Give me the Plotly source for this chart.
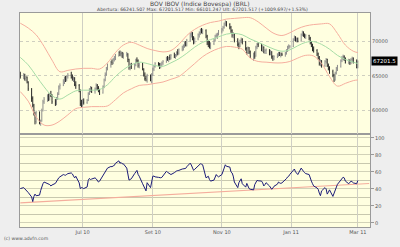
import pandas as pd
import plotly.graph_objects as go

# ---------------- DATA (prices in thousands of points) ----------------
# daily bars (open, high, low, close), one list per month
may10 = [(65.3,65.6,64.6,64.9),(64.9,65.4,64.5,65.1),(65.1,65.3,64.3,64.6),(64.6,65.0,64.2,64.8),
         (64.8,64.9,63.9,64.1),(64.1,64.2,62.8,63.1),(63.1,63.2,61.2,61.7),(61.7,62.0,60.4,60.7),
         (60.7,60.9,59.2,59.5),(59.5,59.7,57.9,58.3),(58.3,59.9,58.0,59.6),(59.6,59.8,57.9,58.2),
         (58.2,58.6,57.7,58.4),(58.4,60.2,58.3,59.9),(59.9,61.5,59.8,61.2),(61.2,61.9,60.9,61.6),
         (61.6,62.3,61.2,62.0)]
jun10 = [(62.0,62.4,61.3,61.6),(61.6,62.5,61.4,62.3),(62.3,62.8,61.9,62.2),(62.2,62.3,60.9,61.2),
         (61.2,61.6,60.6,61.0),(61.0,61.9,60.7,61.7),(61.7,62.6,61.5,62.3),(62.3,63.6,62.2,63.4),
         (63.4,63.9,63.0,63.6),(63.6,64.5,63.5,64.2),(64.2,64.9,63.8,64.7),(64.7,65.0,64.1,64.5),
         (64.5,65.1,64.2,64.9),(64.9,65.4,64.6,65.1),(65.1,65.6,64.6,64.8),(64.8,65.2,64.3,64.5),
         (64.5,64.9,64.1,64.7),(64.7,64.8,63.5,63.7),(63.7,64.2,63.1,63.6),(63.6,63.8,62.6,62.9),
         (62.9,63.0,60.6,60.9),(60.9,61.5,60.4,60.9)]
jul10 = [(60.9,61.6,60.5,61.3),(61.3,61.7,60.8,61.1),(61.1,61.6,60.9,61.4),(61.4,62.6,61.3,62.4),
         (62.4,63.2,62.2,63.0),(63.0,63.5,62.6,63.2),(63.2,63.4,62.5,62.8),(62.8,63.3,62.4,63.1),
         (63.1,63.9,62.9,63.6),(63.6,63.8,62.9,63.2),(63.2,63.5,62.6,62.9),(62.9,63.1,62.2,62.5),
         (62.5,63.6,62.4,63.4),(63.4,64.6,63.2,64.4),(64.4,65.5,64.2,65.2),(65.2,66.3,65.0,66.1),
         (66.1,66.8,65.8,66.6),(66.6,67.2,66.2,67.0),(67.0,67.4,66.6,66.9),(66.9,67.6,66.7,67.4),
         (67.4,67.9,67.1,67.6),(67.6,68.2,67.3,68.0)]
aug10 = [(68.0,68.6,67.8,68.4),(68.4,68.7,67.9,68.2),(68.2,68.6,67.8,68.3),(68.3,68.5,67.6,67.9),
         (67.9,68.4,67.5,68.1),(68.1,68.5,67.8,68.2),(68.2,68.3,67.0,67.4),(67.4,67.5,65.9,66.2),
         (66.2,66.8,65.8,66.5),(66.5,66.9,66.0,66.3),(66.3,66.8,65.9,66.6),(66.6,67.5,66.4,67.3),
         (67.3,67.7,66.9,67.2),(67.2,67.4,66.2,66.5),(66.5,66.9,66.1,66.7),(66.7,66.9,65.8,66.0),
         (66.0,66.1,64.9,65.1),(65.1,65.5,64.3,64.6),(64.6,65.0,64.2,64.4),(64.4,65.3,64.0,65.0),
         (65.0,65.2,64.2,64.4),(64.4,65.4,63.9,65.1)]
sep10 = [(65.1,66.2,65.0,66.0),(66.0,66.6,65.7,66.4),(66.4,67.0,66.2,66.8),(66.8,67.0,66.4,66.7),
         (66.7,66.9,66.0,66.3),(66.3,66.9,66.1,66.7),(66.7,67.1,66.4,66.9),(66.9,67.3,66.6,67.1),
         (67.1,67.8,66.9,67.6),(67.6,67.9,67.2,67.5),(67.5,67.8,67.0,67.7),(67.7,68.1,67.3,67.6),
         (67.6,68.2,67.4,68.0),(68.0,68.4,67.6,67.9),(67.9,68.2,67.5,68.1),(68.1,68.6,67.8,68.4),
         (68.4,68.9,68.0,68.3),(68.3,69.0,68.1,68.9),(68.9,69.4,68.6,69.2),(69.2,69.6,68.7,69.4),
         (69.4,70.0,69.1,69.7),(69.7,70.1,69.3,69.5)]
oct10 = [(69.5,70.4,69.3,70.2),(70.2,71.3,70.0,71.0),(71.0,71.5,70.6,71.2),(71.2,71.4,70.2,70.4),
         (70.4,70.8,69.6,69.9),(69.9,70.6,69.7,70.4),(70.4,71.2,70.2,71.0),(71.0,71.5,70.6,71.3),
         (71.3,71.9,71.0,71.7),(71.7,72.0,71.2,71.5),(71.5,71.9,71.1,71.6),(71.6,71.8,70.5,70.8),
         (70.8,71.0,69.5,69.8),(69.8,70.2,69.2,69.6),(69.6,70.1,69.0,69.4),(69.4,69.9,68.9,69.7),
         (69.7,70.4,69.5,70.2),(70.2,71.0,70.0,70.8),(70.8,71.2,70.5,70.9),(70.9,71.3,70.4,71.1),
         (71.1,71.7,70.9,71.5)]
nov10 = [(71.5,72.0,71.2,71.8),(71.8,72.3,71.5,72.1),(72.1,72.8,71.9,72.6),(72.6,73.1,72.3,72.9),
         (72.9,73.0,72.2,72.5),(72.5,72.7,71.8,72.1),(72.1,72.3,71.3,71.6),(71.6,71.8,70.6,70.9),
         (70.9,71.4,70.5,71.1),(71.1,71.2,69.9,70.2),(70.2,70.5,69.3,69.6),(69.6,69.9,68.9,69.3),
         (69.3,70.3,69.2,70.1),(70.1,70.6,69.8,70.3),(70.3,70.5,69.6,69.9),(69.9,70.1,68.7,69.0),
         (69.0,69.2,68.1,68.4),(68.4,69.3,68.2,69.1),(69.1,69.2,68.2,68.5),(68.5,68.7,67.6,67.9),
         (67.9,68.4,67.2,68.2),(68.2,68.6,67.5,67.9)]
dec10 = [(67.9,69.4,67.8,69.2),(69.2,69.8,68.9,69.6),(69.6,69.9,69.2,69.5),(69.5,69.7,68.6,68.9),
         (68.9,69.5,68.5,69.2),(69.2,69.3,68.3,68.5),(68.5,68.9,68.2,68.7),(68.7,69.0,68.2,68.8),
         (68.8,68.9,68.0,68.3),(68.3,68.8,68.0,68.5),(68.5,68.6,67.5,67.8),(67.8,68.0,67.2,67.5),
         (67.5,68.0,67.3,67.8),(67.8,68.3,67.6,68.1),(68.1,68.5,67.8,68.3),(68.3,68.5,67.9,68.0),
         (68.0,68.4,67.7,68.2),(68.2,68.4,67.9,68.1),(68.1,68.5,67.8,68.3),(68.3,68.9,68.1,68.7),
         (68.7,69.4,68.5,69.2),(69.2,69.6,68.9,69.3),(69.3,69.5,69.0,69.3)]
jan11 = [(69.3,70.5,69.2,70.3),(70.3,70.9,70.1,70.6),(70.6,70.8,70.0,70.2),(70.2,70.6,69.9,70.4),
         (70.4,70.6,69.9,70.1),(70.1,71.2,70.0,71.0),(71.0,71.6,70.8,71.4),(71.4,71.5,70.7,70.9),
         (70.9,71.2,70.5,70.8),(70.8,71.1,70.4,70.9),(70.9,71.0,70.2,70.5),(70.5,70.7,69.6,69.9),
         (69.9,70.1,69.2,69.5),(69.5,69.7,68.6,68.9),(68.9,69.3,68.4,68.7),(68.7,68.9,67.9,68.2),
         (68.2,68.4,67.4,67.6),(67.6,67.9,66.5,66.8),(66.8,67.4,66.4,67.2),(67.2,67.3,66.2,66.5),
         (66.5,67.3,66.3,67.1)]
feb11 = [(67.1,67.6,66.8,67.4),(67.4,67.5,66.3,66.5),(66.5,66.8,65.8,66.1),(66.1,66.4,65.3,65.6),
         (65.6,65.9,64.8,65.1),(65.1,65.3,64.1,64.4),(64.4,65.6,64.3,65.4),(65.4,66.3,65.2,66.1),
         (66.1,66.6,65.7,66.4),(66.4,67.4,66.2,67.2),(67.2,67.9,67.0,67.6),(67.6,68.1,67.3,67.8),
         (67.8,68.0,67.2,67.5),(67.5,67.7,66.8,67.0),(67.0,67.5,66.7,67.3),(67.3,67.4,66.6,66.9),
         (66.9,67.6,66.7,67.4),(67.4,67.8,67.0,67.5),(67.5,67.7,66.8,67.0),(67.0,67.4,66.1,66.2)]
mar11 = [(66.2415,67.2015,66.1012,67.2015)]

# RSI, one value per trading day
rsi_may10 = [40.3,41.4,40.0,38.8,37.5,35.7,30.5,25.0,31.0,33.8,31.9,32.6,38.0,43.4,46.0,48.0,46.4]
rsi_jun10 = [46.4,45.0,43.4,44.5,46.4,48.5,51.8,53.0,54.1,56.8,56.3,56.0,57.0,57.9,58.7,57.5,55.0,52.9,54.8,47.0,40.3,41.4]
rsi_jul10 = [41.0,40.3,42.2,50.0,52.2,51.0,51.5,52.9,51.8,50.0,48.0,49.0,55.6,57.9,60.0,62.0,64.4,66.3,66.0,67.0,67.5,70.0]
rsi_aug10 = [72.9,70.2,71.0,69.4,69.4,64.4,57.0,50.3,51.0,51.8,58.0,60.6,61.7,57.0,54.8,46.0,43.4,40.0,37.6,47.2,41.4,48.0]
rsi_sep10 = [54.8,55.0,54.1,53.5,52.9,53.0,53.5,55.0,60.6,59.5,58.7,57.5,56.8,59.0,60.6,61.0,61.5,61.7,63.3,63.8,64.4,64.0]
rsi_oct10 = [66.0,70.2,68.0,64.0,61.7,63.0,67.1,68.0,69.4,69.0,68.3,52.9,53.5,54.8,51.0,49.1,50.3,53.0,56.8,55.0,54.1]
rsi_nov10 = [56.8,62.0,64.4,68.3,66.5,65.6,60.0,58.7,55.0,48.0,41.4,47.2,49.0,51.8,46.0,42.0,46.4,43.0,40.3,39.5,38.8,45.0]
rsi_dec10 = [48.0,49.9,49.5,49.1,47.0,43.4,45.0,47.2,43.4,42.0,39.5,41.0,43.0,45.5,48.0,47.0,46.4,47.0,50.3,52.0,54.0,54.8,57.0]
rsi_jan11 = [62.0,63.3,60.0,58.7,56.8,64.4,62.0,60.6,59.0,57.9,56.8,52.0,49.1,46.0,43.4,41.0,39.5,35.0,31.9,37.6,41.4]
rsi_feb11 = [40.0,33.8,36.0,38.8,31.1,35.0,39.5,43.0,45.3,50.3,52.0,53.7,52.9,49.1,46.0,47.2,49.1,48.3,47.0,46.0]
rsi_mar11 = [49.8]

# Bollinger bands, read weekly (Fridays) plus the last day
band_mid = [67.7,66.6,65.0,63.4, 62.1,61.6,62.2,62.8, 62.9,62.9,63.0,63.7,64.9, 65.9,66.6,67.0,66.8,
            66.5,66.4,66.9,67.5, 68.3,69.2,69.9,70.3,70.7, 71.1,71.2,71.0,70.4, 69.9,69.4,68.9,68.6,68.8,
            69.4,69.9,70.0,69.6, 68.9,68.0,67.4,67.0, 66.8]
band_low = [62.7,61.3,59.0,57.8, 57.8,58.4,59.3,60.2, 60.4,60.5,60.5,60.6,61.5, 62.5,63.1,63.6,63.7,
            63.9,64.1,64.5,64.9, 65.8,66.8,67.8,68.5,69.0, 69.3,69.2,68.9,67.6, 67.1,67.0,66.9,66.9,67.1,
            67.6,68.0,67.9,66.8, 64.9,63.5,63.9,64.3, 64.4]
band_up = [72.7,72.0,71.0,69.3, 67.3,65.6,65.8,66.0, 66.1,66.1,66.0,66.9,68.4, 69.5,69.9,69.5,69.0,
           68.7,68.5,68.7,69.6, 70.9,71.8,72.4,72.8,73.0, 73.3,73.4,73.5,73.5, 72.9,72.0,71.2,70.9,71.3,
           71.9,72.3,72.5,72.6, 72.6,71.2,69.5,68.6, 68.4]

# RSI trend line end points
trend_dates = ["2010-05-07", "2011-03-11"]
trend_vals = [23.4, 46.3]

month_ticks = ["2010-07-01", "2010-09-01", "2010-11-01", "2011-01-01", "2011-03-01"]
month_labels = ["Jul 10", "Set 10", "Nov 10", "Jan 11", "Mar 11"]
price_ticks = [60000, 65000, 70000]
rsi_ticks = [0, 20, 40, 60, 80, 100]
rsi_minor = [10, 30, 50, 70, 90]
last_price = 67201.5

title1 = "BOV IBOV (Indice Bovespa) (BRL)"
title2 = "Abertura: 66241.507 Max: 67201.517 Min: 66101.247 Ult: 67201.517 (+1009.697/+1.53%)"

# ---------------- BUILD ----------------
bars = may10 + jun10 + jul10 + aug10 + sep10 + oct10 + nov10 + dec10 + jan11 + feb11 + mar11
rsi = (rsi_may10 + rsi_jun10 + rsi_jul10 + rsi_aug10 + rsi_sep10 + rsi_oct10 +
       rsi_nov10 + rsi_dec10 + rsi_jan11 + rsi_feb11 + rsi_mar11)
dates = pd.bdate_range("2010-05-07", "2011-03-01")
assert len(dates) == len(bars) == len(rsi)
o = [b[0] * 1000 for b in bars]
h = [b[1] * 1000 for b in bars]
l = [b[2] * 1000 for b in bars]
c = [b[3] * 1000 for b in bars]

band_dates = list(pd.date_range("2010-05-07", "2011-02-25", freq="W-FRI")) + [pd.Timestamp("2011-03-01")]
assert len(band_dates) == len(band_mid) == len(band_low) == len(band_up)

fig = go.Figure()
band_col = "#F5AE9E"
fig.add_trace(go.Scatter(x=band_dates, y=[v * 1000 for v in band_up], mode="lines", line_shape="spline",
                         line=dict(color=band_col, width=1), xaxis="x2", yaxis="y2"))
fig.add_trace(go.Scatter(x=band_dates, y=[v * 1000 for v in band_low], mode="lines", line_shape="spline",
                         line=dict(color=band_col, width=1), xaxis="x2", yaxis="y2"))
fig.add_trace(go.Scatter(x=band_dates, y=[v * 1000 for v in band_mid], mode="lines", line_shape="spline",
                         line=dict(color="#A6DCA6", width=1), xaxis="x2", yaxis="y2"))
fig.add_trace(go.Ohlc(x=dates, open=o, high=h, low=l, close=c, xaxis="x2", yaxis="y2",
                      increasing=dict(line=dict(color="#8c8c8c", width=1)),
                      decreasing=dict(line=dict(color="#262626", width=1)), tickwidth=0.3))

fig.add_trace(go.Scatter(x=trend_dates, y=trend_vals, mode="lines",
                         line=dict(color="#F4AD9C", width=1.2), xaxis="x", yaxis="y"))
fig.add_trace(go.Scatter(x=dates, y=rsi, mode="lines", line=dict(color="#1C1C78", width=1),
                         xaxis="x", yaxis="y"))

W, H = 400, 247
ml, mr, mt, mb = 20, 21, 13, 15
ph = H - mt - mb
split = 95 / ph
xr = ["2010-05-06 18:00", "2011-03-11 18:00"]
grid_v = "#CFCFC4"
tickf = dict(family="DejaVu Sans", size=5, color="#555555")

fig.update_layout(
    width=W, height=H, margin=dict(l=ml, r=mr, t=mt, b=mb),
    paper_bgcolor="#EEEEEE", plot_bgcolor="#FFFFE0", showlegend=False,
    xaxis=dict(domain=[0, 1], anchor="y", type="date", range=xr, tickvals=month_ticks, ticktext=month_labels,
               showgrid=True, gridcolor=grid_v, gridwidth=1, tickfont=tickf, ticks="", zeroline=False,
               showline=True, linecolor="#9a9a9a", mirror=True, rangeslider=dict(visible=False)),
    xaxis2=dict(domain=[0, 1], anchor="y2", type="date", range=xr, matches="x", tickvals=month_ticks,
                showticklabels=False, showgrid=True, gridcolor=grid_v, ticks="", zeroline=False,
                showline=True, linecolor="#9a9a9a", mirror=True, rangeslider=dict(visible=False)),
    yaxis=dict(domain=[0, split], anchor="x", side="right", range=[-4.9, 104.3], tickvals=rsi_ticks,
               showgrid=True, gridcolor="#D2D2B8", gridwidth=1, zeroline=False, tickfont=tickf,
               ticks="outside", ticklen=3, tickcolor="#999999",
               minor=dict(tickvals=rsi_minor, showgrid=True, gridcolor="#C8C8AE", gridwidth=1),
               showline=True, linecolor="#9a9a9a", mirror=True),
    yaxis2=dict(domain=[split, 1], anchor="x2", side="right", range=[56470, 74190], tickvals=price_ticks,
                ticktext=[str(v) for v in price_ticks], showgrid=True, gridcolor="#CFCFC0", griddash="dot",
                zeroline=False, tickfont=tickf, ticks="", showline=True, linecolor="#9a9a9a", mirror=True),
)

fig.add_annotation(x=1, xref="paper", xanchor="left", xshift=1, y=last_price, yref="y2",
                   text="67201.5", showarrow=False, bgcolor="#000000", borderpad=1,
                   font=dict(family="DejaVu Sans", size=5.5, color="#FFFFFF"))
fig.add_annotation(x=(205 - ml) / (W - ml - mr), xref="paper", y=1 + (mt - 4) / ph, yref="paper",
                   text=title1, showarrow=False, xanchor="center", yanchor="middle",
                   font=dict(family="DejaVu Sans", size=6, color="#444444"))
fig.add_annotation(x=(207 - ml) / (W - ml - mr), xref="paper", y=1 + (mt - 9.5) / ph, yref="paper",
                   text=title2, showarrow=False, xanchor="center", yanchor="middle",
                   font=dict(family="DejaVu Sans", size=4.6, color="#444444"))
fig.add_annotation(x=(2 - ml) / (W - ml - mr), xref="paper", y=-(244 - (H - mb)) / ph, yref="paper",
                   text="(c) www.advfn.com", showarrow=False, xanchor="left", yanchor="middle",
                   font=dict(family="DejaVu Sans", size=4.6, color="#555555"))

fig.write_html("out.html")
